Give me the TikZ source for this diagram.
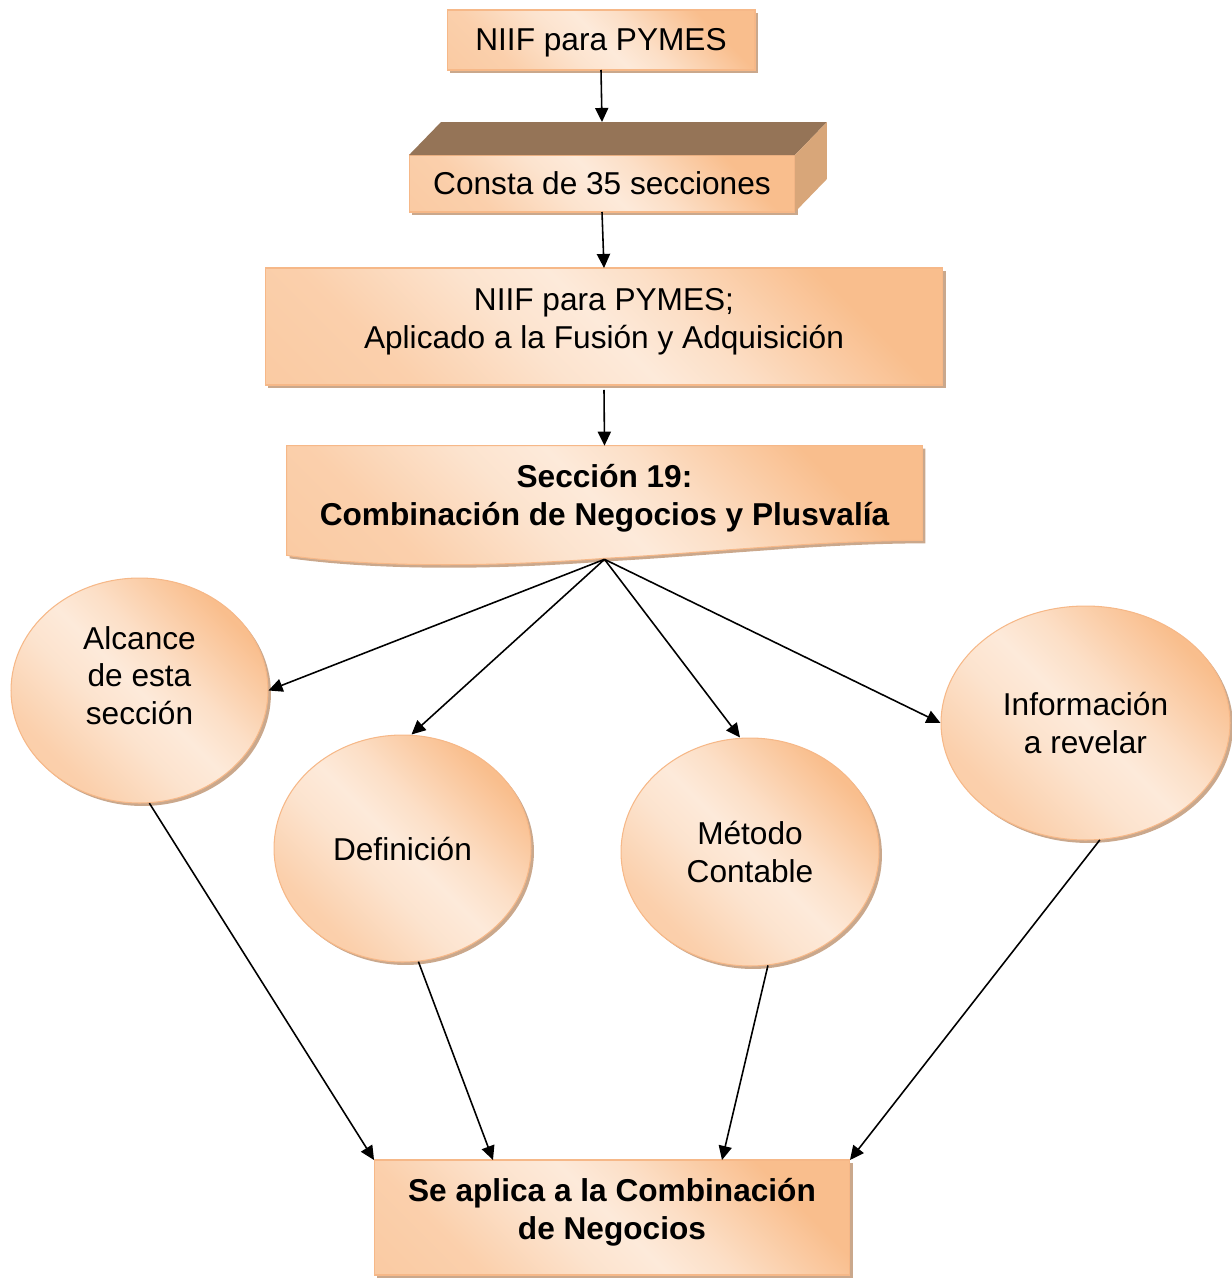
\documentclass[tikz,border=0pt]{standalone}
\usepackage{fontspec}
\setmainfont{Liberation Sans}
\usetikzlibrary{shapes.geometric,arrows.meta,shadows}
\definecolor{peach}{RGB}{249,190,141}
\definecolor{peachlight}{RGB}{253,234,218}
\definecolor{peachedge}{RGB}{246,184,136}
\definecolor{shadowc}{RGB}{196,158,128}
\definecolor{cubetop}{RGB}{149,116,87}
\definecolor{cubeside}{RGB}{216,166,121}
\pgfdeclarehorizontalshading{peachshade}{100bp}{color(0bp)=(peach!85!peachlight); color(28bp)=(peach!60!peachlight); color(42bp)=(peachlight!85!peach); color(50bp)=(peachlight); color(58bp)=(peachlight!75!peach); color(74bp)=(peach); color(100bp)=(peach)}
\begin{document}
\begin{tikzpicture}[x=0.02cm,y=-0.02cm,
    peachfill/.style={shading=peachshade, shading angle=45},
    shade/.style={drop shadow={shadow xshift=1.7pt, shadow yshift=-1.7pt, fill=shadowc, opacity=0.9}},
    box/.style={rectangle, draw=peachedge, line width=0.6pt, peachfill, shade, inner sep=0pt, outer sep=0pt, align=center, font=\fontsize{18}{21.5}\selectfont},
    bubble/.style={ellipse, draw=peachedge, line width=0.6pt, peachfill, shade, inner sep=0pt, align=center, font=\fontsize{18}{21.5}\selectfont},
    arr/.style={-{Triangle[length=8pt,width=7.5pt]}, line width=0.9pt}]
    \useasboundingbox (0,0) rectangle (1231,1278);

    % cajas de arriba
    \node[box, minimum width=6.16cm, minimum height=1.2cm, text height=16pt, text depth=4pt] (niif) at (601,40) {NIIF para PYMES};
    \node[box, drop shadow={opacity=0}, minimum width=7.72cm, minimum height=1.14cm, text height=17pt, text depth=4pt] (cube) at (602,183.5) {Consta de 35 secciones};
    \fill[cubetop] (cube.north west) -- ++(32,-33) -- ([shift={(32,-33)}]cube.north east) -- (cube.north east) -- cycle;
    \fill[cubeside] (cube.north east) -- ++(32,-33) -- ([shift={(32,-33)}]cube.south east) -- (cube.south east) -- cycle;
    \coordinate (cubeback) at ([shift={(0,-33)}]cube.north);
    \node[box, minimum width=13.56cm, minimum height=2.34cm, text depth=0.33cm] (fusion) at (604,326.5) {NIIF para PYMES;\\Aplicado a la Fusión y Adquisición};

    % documento con borde ondulado
    \node[minimum width=12.7cm, minimum height=1.88cm, inner sep=0pt] (sec19) at (604.5,493) {};
    \path[draw=peachedge, line width=0.6pt, peachfill, shade] (sec19.north west) -- (sec19.north east) -- (sec19.south east)
        .. controls ([shift={(-102,0)}]sec19.south east) and ([shift={(96,13)}]sec19.south) .. ([shift={(0,18)}]sec19.south)
        .. controls ([shift={(-104,26)}]sec19.south) and ([shift={(-224,28)}]sec19.south) .. ([shift={(0,15)}]sec19.south west) -- cycle;
    \node[font=\bfseries\fontsize{18}{21.5}\selectfont, align=center] at ([shift={(0,5)}]sec19) {Sección 19:\\Combinación de Negocios y Plusvalía};
    \coordinate (tip) at ([shift={(0,19)}]sec19.south);

    % elipses
    \node[bubble, minimum width=5.14cm, minimum height=4.5cm, text depth=0.6cm] (alcance) at (139.5,690.5) {Alcance\\de esta\\sección};
    \node[bubble, minimum width=5.14cm, minimum height=4.54cm] (def) at (402.5,848.5) {Definición};
    \node[bubble, minimum width=5.16cm, minimum height=4.56cm] (metodo) at (750,852) {Método\\Contable};
    \node[bubble, minimum width=5.78cm, minimum height=4.68cm] (info) at (1085.5,723) {Información\\a revelar};

    \node[box, font=\bfseries\fontsize{18}{21.5}\selectfont, minimum width=9.52cm, minimum height=2.3cm, text depth=0.36cm] (apl) at (612,1217.5) {Se aplica a la Combinación\\de Negocios};

    % flechas
    \draw[arr] (niif.south) -- (cubeback);
    \draw[arr] (cube.south) -- (fusion.north);
    \draw[arr] ([shift={(0,5)}]fusion.south) -- (sec19.north);
    \draw[arr] (tip) -- (alcance.east);
    \draw[arr] (tip) -- ([shift={(9,0)}]def.north);
    \draw[arr] (tip) -- ([shift={(-10,0)}]metodo.north);
    \draw[arr] (tip) -- (info.west);
    \draw[arr] (alcance.-85) -- (apl.north west);
    \draw[arr] (def.-82) -- ([shift={(-119,0)}]apl.north);
    \draw[arr] (metodo.-81) -- ([shift={(110,0)}]apl.north);
    \draw[arr] (info.-83) -- (apl.north east);
\end{tikzpicture}
\end{document}
